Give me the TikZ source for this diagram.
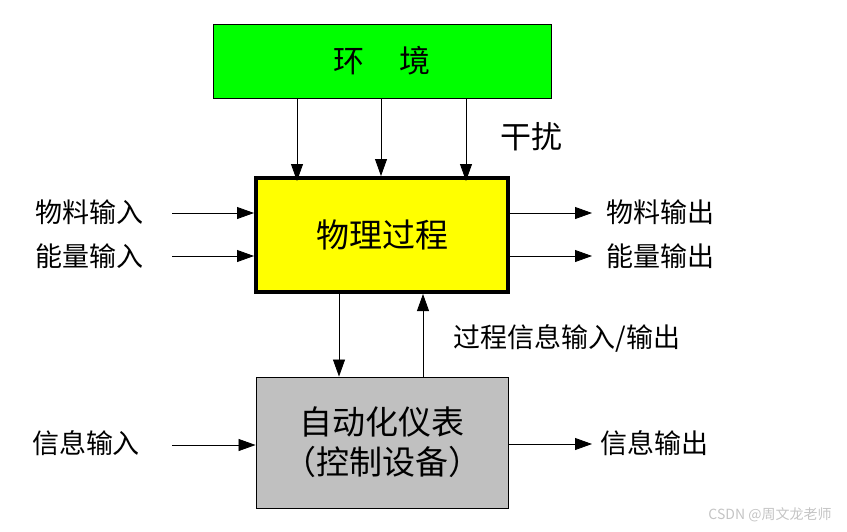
\documentclass[tikz,border=0pt]{standalone}
\usepackage{fontspec}
\setmainfont{Noto Sans CJK SC}
\usetikzlibrary{arrows.meta}
\definecolor{envgreen}{HTML}{00FF00}
\definecolor{physyellow}{HTML}{FFFF00}
\definecolor{ctrlgray}{HTML}{C0C0C0}
\definecolor{wmgray}{HTML}{C4C4C4}
\begin{document}
\begin{tikzpicture}[x=1pt,y=-1pt,
  box/.style={draw=black,line width=0.9pt,inner sep=0pt,anchor=center},
  lbl/.style={font=\fontsize{27}{32}\selectfont,inner sep=0pt},
  arr/.style={line width=0.8pt,-{Triangle[length=17pt,width=12pt]}}]
\useasboundingbox (0,0) rectangle (847,531);
% boxes
\node[box,fill=envgreen,minimum width=338pt,minimum height=74pt] (env) at (382,61)
  {\fontsize{31}{36}\selectfont 环\hspace{36pt}境};
\node[box,fill=physyellow,line width=4pt,minimum width=252pt,minimum height=114pt] (phys) at (382,235)
  {\fontsize{33}{38}\selectfont 物理过程};
\node[box,fill=ctrlgray,minimum width=252pt,minimum height=131pt,align=center,
  font=\fontsize{33}{40}\selectfont] (ctrl) at (382,442.5) {自动化仪表\\（控制设备）};
% disturbance arrows
\coordinate (d1) at (297,0);
\coordinate (d2) at (381,0);
\coordinate (d3) at (466,0);
\draw[arr] (d1 |- env.south) -- ([yshift=-5pt]d1 |- phys.north);
\draw[arr] (d2 |- env.south) -- (d2 |- phys.north);
\draw[arr] (d3 |- env.south) -- ([yshift=-5pt]d3 |- phys.north);
\node[lbl,font=\fontsize{31}{36}\selectfont] (dist) at (531,137) {干扰};
% inputs
\node[lbl] (min) at (89,212) {物料输入};
\node[lbl] (ein) at (89,256) {能量输入};
\coordinate (min0) at (172,213);
\coordinate (ein0) at (172,256);
\draw[arr] (min0) -- (min0 -| phys.west);
\draw[arr] (ein0) -- (ein0 -| phys.west);
% outputs
\node[lbl] (mout) at (660,212) {物料输出};
\node[lbl] (eout) at (660,256) {能量输出};
\coordinate (mout0) at (592,213);
\coordinate (eout0) at (592,256);
\draw[arr] (mout0 -| phys.east) -- (mout0);
\draw[arr] (eout0 -| phys.east) -- (eout0);
% process info
\coordinate (v1) at (339,0);
\coordinate (v2) at (423,0);
\draw[arr] (v1 |- phys.south) -- (v1 |- ctrl.north);
\draw[arr] (v2 |- ctrl.north) -- (v2 |- phys.south);
\node[lbl] (pinfo) at (567,338) {过程信息输入/输出};
% info in/out
\node[lbl] (iin) at (86,443) {信息输入};
\node[lbl] (iout) at (654,443) {信息输出};
\coordinate (iin0) at (172,445);
\coordinate (iout0) at (592,444);
\draw[arr] (iin0) -- (iin0 -| ctrl.west);
\draw[arr] (iout0 -| ctrl.east) -- (iout0);
% watermark
\node[font=\fontsize{14}{16}\selectfont,text=wmgray,inner sep=0pt] (wm) at (770,515) {CSDN @周文龙老师};
\end{tikzpicture}
\end{document}
